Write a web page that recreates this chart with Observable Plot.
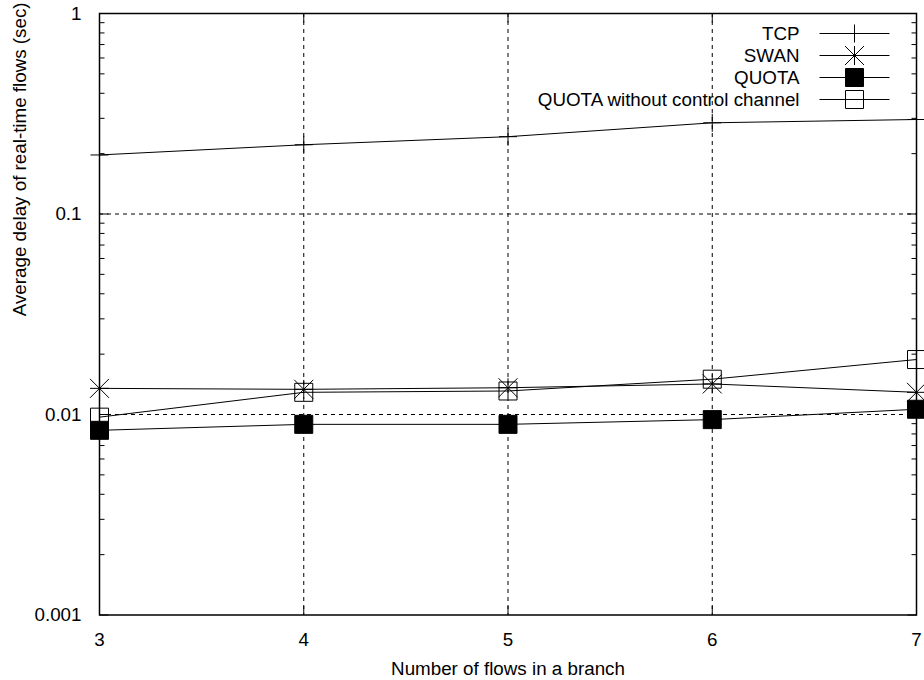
<!DOCTYPE html>
<html>
<head>
<meta charset="utf-8">
<script src="https://cdn.jsdelivr.net/npm/d3@7"></script>
<script src="https://cdn.jsdelivr.net/npm/@observablehq/plot@0.6"></script>
<style>
  html, body { margin: 0; padding: 0; background: #fff; }
  #chart { width: 924px; height: 680px; }
</style>
</head>
<body>
<div id="chart"></div>
<script>
// ---- data ----
const flows = [3, 4, 5, 6, 7];
const tcp = [0.197, 0.2215, 0.243, 0.285, 0.296];
const swan = [0.0135, 0.01335, 0.0136, 0.0142, 0.0129];
const quota = [0.00834, 0.00893, 0.00893, 0.00943, 0.01062];
const quotaNoCtrl = [0.0097, 0.0129, 0.0131, 0.0150, 0.0188];
const seriesNames = ["TCP", "SWAN", "QUOTA", "QUOTA without control channel"];
const xTicks = [3, 4, 5, 6, 7];
const yTicks = [0.001, 0.01, 0.1, 1];
const yTickLabels = ["0.001", "0.01", "0.1", "1"];
const xTitle = "Number of flows in a branch";
const yTitle = "Average delay of real-time flows (sec)";

// ---- symbols (gnuplot-like) ----
const rad = (size) => Math.sqrt(size / Math.PI);
const symPlus = { draw(c, size) { const r = rad(size); c.moveTo(-r, 0); c.lineTo(r, 0); c.moveTo(0, -r); c.lineTo(0, r); } };
const symStar = { draw(c, size) { const r = rad(size); c.moveTo(-r, 0); c.lineTo(r, 0); c.moveTo(0, -r); c.lineTo(0, r); c.moveTo(-r, -r); c.lineTo(r, r); c.moveTo(-r, r); c.lineTo(r, -r); } };
const symSquare = { draw(c, size) { const r = rad(size); c.moveTo(-r, -r); c.lineTo(r, -r); c.lineTo(r, r); c.lineTo(-r, r); c.closePath(); } };
const symHLine = { draw(c, size) { const r = rad(size); c.moveTo(-r, 0); c.lineTo(r, 0); } };
// inward tick marks
const tickRight = { draw(c, size) { const r = rad(size); c.moveTo(0, 0); c.lineTo(r, 0); } };
const tickLeft = { draw(c, size) { const r = rad(size); c.moveTo(0, 0); c.lineTo(-r, 0); } };
const tickUp = { draw(c, size) { const r = rad(size); c.moveTo(0, 0); c.lineTo(0, -r); } };
const tickDown = { draw(c, size) { const r = rad(size); c.moveTo(0, 0); c.lineTo(0, r); } };

const seriesValues = [tcp, swan, quota, quotaNoCtrl];
const seriesStyle = [
  { symbol: symPlus, fill: "none", r: 9 },
  { symbol: symStar, fill: "none", r: 9.5 },
  { symbol: symSquare, fill: "black", r: 9 },
  { symbol: symSquare, fill: "none", r: 9 }
];
const rows = seriesNames.map((name, i) =>
  flows.map((x, j) => ({ series: name, x, y: seriesValues[i][j] }))
);

// minor ticks for the log axis
const minorTicks = [];
for (let d = 0; d < yTicks.length - 1; d++) for (let k = 2; k <= 9; k++) minorTicks.push(+(yTicks[d] * k).toPrecision(3));

const xMin = xTicks[0], xMax = xTicks[xTicks.length - 1];
const yMin = yTicks[0], yMax = yTicks[yTicks.length - 1];
const tickStyle = { stroke: "black", strokeWidth: 1, fill: "none" };
const FS = 18.8;

const marks = [
  Plot.gridX([4, 5, 6], { stroke: "black", strokeOpacity: 1, strokeWidth: 1, strokeDasharray: "4,4" }),
  Plot.gridY([0.01, 0.1], { stroke: "black", strokeOpacity: 1, strokeWidth: 1, strokeDasharray: "4,4" }),
  // inward ticks
  Plot.dot(minorTicks, { x: () => xMin, y: (d) => d, symbol: tickRight, r: 5, ...tickStyle }),
  Plot.dot(minorTicks, { x: () => xMax, y: (d) => d, symbol: tickLeft, r: 5, ...tickStyle }),
  Plot.dot(yTicks, { x: () => xMin, y: (d) => d, symbol: tickRight, r: 9, ...tickStyle }),
  Plot.dot(yTicks, { x: () => xMax, y: (d) => d, symbol: tickLeft, r: 9, ...tickStyle }),
  Plot.dot(xTicks, { x: (d) => d, y: () => yMin, symbol: tickUp, r: 9, ...tickStyle }),
  Plot.dot(xTicks, { x: (d) => d, y: () => yMax, symbol: tickDown, r: 9, ...tickStyle }),
  // tick labels
  Plot.axisY(yTicks, { anchor: "left", tickSize: 0, tickPadding: 18, tickFormat: (d) => yTickLabels[yTicks.indexOf(d)], fontSize: FS, label: null }),
  Plot.axisX(xTicks, { anchor: "bottom", tickSize: 0, tickPadding: 18, tickFormat: (d) => String(d), fontSize: FS, label: null })
];

rows.forEach((data, i) => {
  const st = seriesStyle[i];
  marks.push(Plot.line(data, { x: "x", y: "y", stroke: "black", strokeWidth: 1 }));
  marks.push(Plot.dot(data, { x: "x", y: "y", symbol: st.symbol, r: st.r, stroke: "black", strokeWidth: 1, fill: st.fill }));
  // legend entry
  const row = [seriesNames[i]];
  const dy = 20 + 22 * i;
  marks.push(Plot.text(row, { text: (d) => d, frameAnchor: "top-right", textAnchor: "end", lineAnchor: "middle", dx: -117, dy, fontSize: FS, fill: "black" }));
  marks.push(Plot.dot(row, { frameAnchor: "top-right", dx: -62, dy, symbol: symHLine, r: 35, stroke: "black", strokeWidth: 1, fill: "none" }));
  marks.push(Plot.dot(row, { frameAnchor: "top-right", dx: -62, dy, symbol: st.symbol, r: st.r, stroke: "black", strokeWidth: 1, fill: st.fill }));
});

// axis titles
marks.push(Plot.text([xTitle], { text: (d) => d, frameAnchor: "bottom", lineAnchor: "middle", dy: 53.5, fontSize: FS, fill: "black" }));
marks.push(Plot.text([yTitle], { text: (d) => d, frameAnchor: "left", lineAnchor: "middle", dx: -80, dy: 2, rotate: -90, fontSize: FS, fill: "black" }));
marks.push(Plot.frame({ stroke: "black", strokeWidth: 1.5 }));

const chart = Plot.plot({
  width: 924,
  height: 680,
  marginTop: 13,
  marginBottom: 65.5,
  marginLeft: 99,
  marginRight: 8,
  style: { fontFamily: "'Liberation Sans', Arial, Helvetica, sans-serif", background: "white", color: "black", overflow: "visible" },
  x: { domain: [3, 7], axis: null },
  y: { type: "log", domain: [0.001, 1], axis: null },
  marks
});
document.getElementById("chart").appendChild(chart);
</script>
</body>
</html>
